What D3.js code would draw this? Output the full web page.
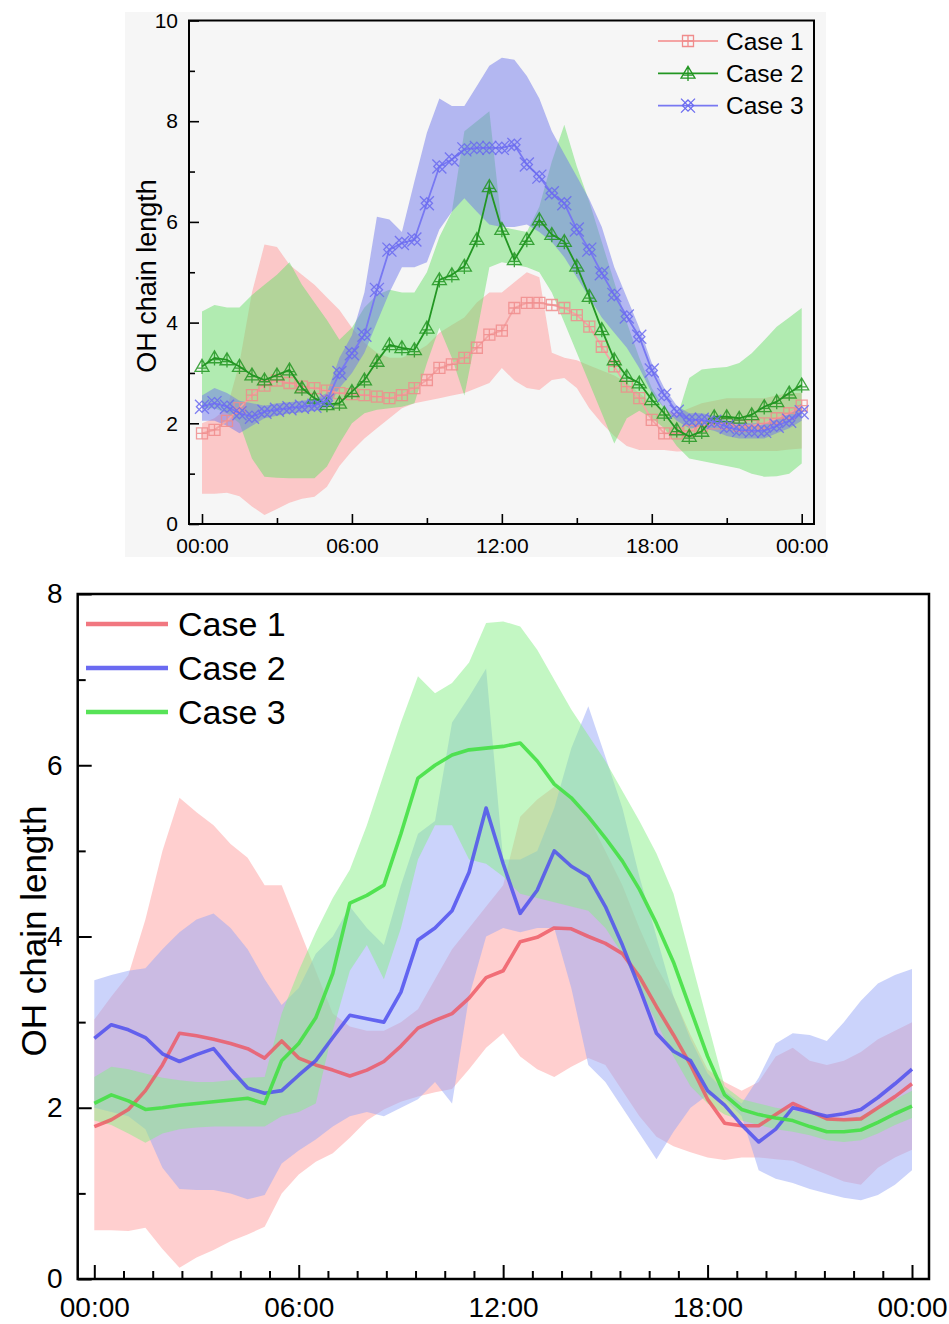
<!DOCTYPE html>
<html>
<head>
<meta charset="utf-8">
<script src="https://cdn.jsdelivr.net/npm/d3@7"></script>
<style>
  body { margin: 0; background: #fff; }
  svg { display: block; }
  text { font-family: Arial, "Liberation Sans", sans-serif; fill: #000; }
</style>
</head>
<body>
<div id="chart"></div>
<script>
var width = 949
var height = 1324

// half-hourly time of day (hours), shared by both panels
var hours = d3.range(0, 24.25, 0.5)
var caseNames = ["Case 1", "Case 2", "Case 3"]
var majorHours = [0, 6, 12, 18, 24]
var hourLabels = ["00:00", "06:00", "12:00", "18:00", "00:00"]

// ---- top panel (lines with markers) ----
var topCase1 = [1.8,1.87,2.05,2.3,2.56,2.75,2.85,2.8,2.73,2.7,2.65,2.6,2.58,2.56,2.53,2.5,2.56,2.7,2.86,3.1,3.17,3.3,3.5,3.76,3.84,4.29,4.39,4.39,4.35,4.29,4.15,3.92,3.52,3.13,2.73,2.5,2.07,1.8,1.8,1.85,1.95,2.0,2.0,1.95,1.95,2.0,2.1,2.2,2.35]
var topCase2 = [3.13,3.3,3.26,3.13,2.96,2.86,2.96,3.06,2.7,2.5,2.37,2.4,2.63,2.86,3.23,3.56,3.5,3.46,3.89,4.85,4.95,5.12,5.65,6.7,5.85,5.25,5.65,6.04,5.75,5.61,5.12,4.52,3.86,3.26,2.93,2.8,2.47,2.2,1.87,1.74,1.84,2.13,2.13,2.1,2.17,2.33,2.43,2.6,2.76]
var topCase3 = [2.33,2.4,2.33,2.2,2.13,2.23,2.27,2.3,2.33,2.35,2.45,3.0,3.39,3.76,4.65,5.45,5.58,5.65,6.37,7.1,7.24,7.44,7.47,7.47,7.47,7.53,7.14,6.9,6.57,6.37,5.85,5.45,4.98,4.55,4.12,3.72,3.05,2.56,2.23,2.07,2.07,2.03,1.93,1.87,1.85,1.85,1.95,2.05,2.22]

var topCase1Hi = [2.0,2.1,2.3,3.2,4.6,5.55,5.5,5.15,4.95,4.75,4.5,4.25,3.9,3.6,3.4,3.3,3.3,3.4,3.55,3.8,3.95,4.1,4.4,4.6,4.6,4.8,5.0,4.9,3.4,3.3,3.25,3.15,3.05,2.95,2.8,2.6,2.4,2.25,2.2,2.3,2.4,2.45,2.5,2.5,2.5,2.5,2.55,2.6,2.6]
var topCase1Lo = [0.6,0.6,0.62,0.55,0.35,0.18,0.3,0.42,0.5,0.54,0.74,1.15,1.45,1.7,1.9,2.1,2.3,2.4,2.45,2.5,2.55,2.6,2.7,2.8,3.1,2.85,2.7,2.66,2.86,2.9,2.7,2.3,2.0,1.75,1.55,1.47,1.47,1.47,1.44,1.45,1.45,1.45,1.45,1.45,1.45,1.45,1.45,1.48,1.5]
var topCase2Hi = [4.22,4.35,4.3,4.3,4.55,4.75,4.95,5.2,4.75,4.4,4.05,3.66,3.9,4.3,4.55,4.65,4.6,4.6,5.0,5.7,6.2,7.8,8.0,8.2,5.9,5.85,5.8,6.3,7.2,7.93,7.1,6.4,5.6,4.8,4.0,3.3,2.7,2.3,2.1,2.9,3.07,3.1,3.12,3.2,3.39,3.65,3.92,4.1,4.29]
var topCase2Lo = [2.3,2.3,2.2,2.0,1.3,0.94,0.92,0.91,0.91,0.91,1.14,1.6,2.0,2.2,2.27,2.3,2.33,2.4,3.2,3.9,3.3,2.55,3.8,5.1,5.2,5.15,5.1,5.0,4.6,4.0,3.4,2.8,2.2,1.6,2.1,2.25,2.1,1.9,1.55,1.3,1.25,1.2,1.15,1.1,1.0,0.94,0.95,1.0,1.2]
var topCase3Hi = [2.55,2.7,2.6,2.45,2.4,2.35,2.4,2.42,2.45,2.48,2.6,3.3,3.75,4.6,6.1,6.05,5.8,6.8,7.77,8.45,8.3,8.3,8.7,9.1,9.26,9.22,8.9,8.45,7.8,7.35,6.9,6.45,5.9,5.1,4.5,3.9,3.2,2.7,2.35,2.2,2.2,2.15,2.05,2.0,2.0,2.0,2.1,2.2,2.4]
var topCase3Lo = [2.05,2.05,1.95,1.8,1.95,2.1,2.15,2.2,2.22,2.25,2.3,2.7,3.0,3.4,4.0,4.6,5.1,5.1,5.2,5.85,6.2,6.47,6.2,5.95,5.9,5.9,5.95,5.8,5.6,5.3,4.9,4.5,4.1,3.8,3.5,3.1,2.6,2.3,2.05,1.9,1.9,1.85,1.75,1.7,1.7,1.7,1.8,1.9,2.05]

// ---- bottom panel (smooth lines) ----
var botCase1 = [1.78,1.86,1.98,2.2,2.5,2.87,2.84,2.8,2.75,2.69,2.58,2.78,2.58,2.5,2.44,2.37,2.44,2.54,2.72,2.93,3.02,3.1,3.28,3.52,3.6,3.94,3.99,4.1,4.09,4.0,3.92,3.8,3.53,3.18,2.85,2.5,2.1,1.82,1.79,1.79,1.92,2.05,1.96,1.87,1.86,1.87,2.0,2.13,2.28]
var botCase2 = [2.81,2.97,2.91,2.82,2.63,2.54,2.62,2.69,2.45,2.23,2.17,2.2,2.38,2.55,2.82,3.08,3.04,3.0,3.35,3.96,4.1,4.3,4.75,5.5,4.85,4.27,4.54,5.0,4.82,4.7,4.35,3.9,3.4,2.87,2.66,2.55,2.2,2.03,1.8,1.6,1.75,2.0,1.95,1.9,1.93,1.98,2.12,2.28,2.45]
var botCase3 = [2.05,2.15,2.08,1.98,2.0,2.03,2.05,2.07,2.09,2.11,2.05,2.55,2.75,3.05,3.57,4.39,4.48,4.6,5.2,5.85,6.0,6.12,6.18,6.2,6.22,6.26,6.05,5.78,5.62,5.4,5.15,4.88,4.55,4.15,3.7,3.15,2.6,2.15,1.98,1.92,1.88,1.85,1.78,1.72,1.72,1.74,1.83,1.93,2.02]

var botCase1Hi = [3.03,3.3,3.55,4.2,5.0,5.62,5.45,5.3,5.08,4.92,4.6,4.6,4.1,3.6,3.1,2.95,2.9,2.9,3.0,3.15,3.5,3.85,4.1,4.35,4.6,5.4,5.6,5.75,5.6,5.4,5.0,4.6,4.1,3.65,3.3,2.85,2.45,2.3,2.2,2.3,2.6,2.7,2.55,2.5,2.55,2.65,2.8,2.9,3.0]
var botCase1Lo = [0.57,0.57,0.56,0.6,0.35,0.13,0.25,0.34,0.44,0.52,0.61,1.0,1.22,1.37,1.47,1.65,1.85,1.98,2.07,2.13,2.18,2.22,2.45,2.7,2.87,2.6,2.45,2.36,2.48,2.58,2.5,2.2,1.9,1.66,1.55,1.48,1.42,1.39,1.42,1.42,1.4,1.38,1.3,1.22,1.14,1.1,1.3,1.42,1.51]
var botCase2Hi = [3.49,3.55,3.6,3.63,3.85,4.05,4.2,4.27,4.1,3.85,3.5,3.2,3.4,3.8,4.0,4.35,4.1,3.9,4.6,5.2,5.35,6.5,6.8,7.13,4.9,4.9,5.0,5.5,6.2,6.69,6.1,5.5,4.7,4.0,3.3,2.8,2.4,2.2,2.05,2.35,2.75,2.87,2.85,2.78,3.0,3.25,3.45,3.55,3.62]
var botCase2Lo = [2.0,1.95,1.9,1.75,1.3,1.05,1.04,1.04,1.0,0.93,0.98,1.35,1.5,1.63,1.78,1.9,1.95,1.9,2.0,2.1,2.3,2.05,3.3,4.0,4.1,4.05,4.1,4.1,3.4,2.5,2.3,2.0,1.7,1.4,1.72,2.0,2.15,2.1,1.9,1.27,1.17,1.12,1.05,1.0,0.95,0.92,0.98,1.1,1.27]
var botCase3Hi = [2.36,2.48,2.45,2.4,2.35,2.32,2.3,2.3,2.32,2.35,2.36,3.1,3.6,4.05,4.45,4.78,5.3,5.9,6.5,7.04,6.84,6.96,7.2,7.66,7.68,7.62,7.35,7.0,6.65,6.35,6.05,5.7,5.35,4.97,4.5,3.75,3.0,2.25,2.1,2.05,2.0,1.97,1.93,1.88,1.87,1.9,2.0,2.1,2.2]
var botCase3Lo = [1.85,1.8,1.7,1.59,1.7,1.75,1.77,1.78,1.78,1.78,1.78,1.9,1.95,2.05,2.9,3.6,3.9,3.5,4.1,4.9,5.3,5.3,4.9,4.85,4.7,4.5,4.45,4.4,4.35,4.3,4.1,3.8,3.4,3.0,2.6,2.25,2.05,1.92,1.85,1.8,1.75,1.72,1.68,1.62,1.6,1.62,1.7,1.8,1.88]

var svg = d3.select("#chart")
  .append("svg")
    .attr("width", width)
    .attr("height", height)

// marker shapes used in the top panel
function markerPath(kind, s) {
  if (kind == "square")
    return `M${-s},${-s}H${s}V${s}H${-s}Z M0,${-s}V${s} M${-s},0H${s}`
  if (kind == "triangle")
    return `M0,${-s}L${s},${s*0.7}L${-s},${s*0.7}Z M0,${-s}V${s*1.1} M${-s*0.65},${s*0.25}H${s*0.65}`
  // crossed diamond
  return `M${-s},${-s}L${s},${s} M${-s},${s}L${s},${-s} M0,${-s*0.8}L${s*0.8},0L0,${s*0.8}L${-s*0.8},0Z`
}

function drawAxes(g, x, y, o) {
  // frame
  g.append("rect")
    .attr("x", o.left).attr("y", o.top)
    .attr("width", o.right - o.left).attr("height", o.bottom - o.top)
    .attr("fill", "none").attr("stroke", "#000").attr("stroke-width", o.frame)

  var xa = g.append("g").attr("transform", `translate(0,${o.bottom})`)
    .call(d3.axisBottom(x).tickValues(majorHours).tickSize(-o.major)
      .tickPadding(o.xPad).tickFormat((d, i) => hourLabels[i]))
  var xm = g.append("g").attr("transform", `translate(0,${o.bottom})`)
    .call(d3.axisBottom(x).tickValues(o.xMinor).tickSize(-o.minor).tickFormat(""))
  var ya = g.append("g").attr("transform", `translate(${o.left},0)`)
    .call(d3.axisLeft(y).tickValues(o.yMajor).tickSize(-o.major).tickPadding(o.yPad))
  var ym = g.append("g").attr("transform", `translate(${o.left},0)`)
    .call(d3.axisLeft(y).tickValues(o.yMinor).tickSize(-o.minor).tickFormat(""))

  ;[xa, xm, ya, ym].forEach(a => {
    a.select(".domain").remove()
    a.selectAll("line").attr("stroke", "#000").attr("stroke-width", o.tickW)
    a.selectAll("text").attr("font-size", o.tickFont)
      .attr("font-family", "Arial, 'Liberation Sans', sans-serif").attr("fill", "#000")
  })
}

// ================= TOP PANEL =================
var xTop = d3.scaleLinear().domain([0, 24]).range([202, 801.7])
var yTop = d3.scaleLinear().domain([0, 10]).range([524, 20.5])

var gTop = svg.append("g")
gTop.append("rect").attr("x", 125).attr("y", 12).attr("width", 701).attr("height", 545).attr("fill", "#f6f6f6")

var topSeries = [
  { lo: topCase1Lo, hi: topCase1Hi, mean: topCase1, fill: "#ff9a9a", line: "#f4a4a4", mark: "#f08c8c", kind: "square", size: 5.5 },
  { lo: topCase2Lo, hi: topCase2Hi, mean: topCase2, fill: "#6ce06c", line: "#229622", mark: "#229622", kind: "triangle", size: 7 },
  { lo: topCase3Lo, hi: topCase3Hi, mean: topCase3, fill: "#7078ec", line: "#7878f2", mark: "#6a6af0", kind: "xx", size: 7 }
]

var topArea = d3.area()
  .x((d, i) => xTop(hours[i]))
  .y0(d => yTop(d[0]))
  .y1(d => yTop(d[1]))

topSeries.forEach(s => {
  gTop.append("path")
    .datum(d3.zip(s.lo, s.hi))
    .attr("d", topArea)
    .attr("fill", s.fill)
    .attr("fill-opacity", 0.5)
})

var topLine = d3.line().x((d, i) => xTop(hours[i])).y(d => yTop(d))

topSeries.forEach(s => {
  gTop.append("path")
    .datum(s.mean)
    .attr("d", topLine)
    .attr("fill", "none")
    .attr("stroke", s.line)
    .attr("stroke-width", 1.8)
  gTop.append("g").selectAll("path").data(s.mean)
    .enter().append("path")
      .attr("transform", (d, i) => `translate(${xTop(hours[i])},${yTop(d)})`)
      .attr("d", markerPath(s.kind, s.size))
      .attr("fill", "none")
      .attr("stroke", s.mark)
      .attr("stroke-width", 1.3)
      .attr("stroke-opacity", 0.85)
})

drawAxes(gTop, xTop, yTop, {
  left: 189, right: 814, top: 20.5, bottom: 524, frame: 2,
  major: 10, minor: 6, tickW: 1.6, tickFont: 21, xPad: 14, yPad: 11,
  xMinor: [3, 9, 15, 21], yMajor: [0, 2, 4, 6, 8, 10], yMinor: [1, 3, 5, 7, 9]
})

gTop.append("text")
  .attr("transform", "translate(156,276) rotate(-90)")
  .attr("text-anchor", "middle")
  .attr("font-size", 27)
  .text("OH chain length")

// legend
var legTop = gTop.append("g")
topSeries.forEach((s, i) => {
  var ly = 41 + i * 32.3
  legTop.append("line").attr("x1", 658).attr("x2", 718).attr("y1", ly).attr("y2", ly)
    .attr("stroke", s.line).attr("stroke-width", 1.8)
  legTop.append("path").attr("transform", `translate(688,${ly})`)
    .attr("d", markerPath(s.kind, s.size)).attr("fill", "none")
    .attr("stroke", s.mark).attr("stroke-width", 1.3)
  legTop.append("text").attr("x", 726).attr("y", ly + 8.5)
    .attr("font-size", 24.5).text(caseNames[i])
})

// ================= BOTTOM PANEL =================
var xBot = d3.scaleLinear().domain([0, 24]).range([94.3, 912])
var yBot = d3.scaleLinear().domain([0, 8]).range([1279, 594])

var gBot = svg.append("g")

var botSeries = [
  { lo: botCase1Lo, hi: botCase1Hi, mean: botCase1, fill: "#ffa0a0", line: "#ee5560", op: 0.8 },
  { lo: botCase2Lo, hi: botCase2Hi, mean: botCase2, fill: "#98a8f8", line: "#5050ee", op: 0.85 },
  { lo: botCase3Lo, hi: botCase3Hi, mean: botCase3, fill: "#88f088", line: "#45e045", op: 0.9 }
]

var botArea = d3.area()
  .x((d, i) => xBot(hours[i]))
  .y0(d => yBot(d[0]))
  .y1(d => yBot(d[1]))

botSeries.forEach(s => {
  gBot.append("path")
    .datum(d3.zip(s.lo, s.hi))
    .attr("d", botArea)
    .attr("fill", s.fill)
    .attr("fill-opacity", 0.5)
})

var botLine = d3.line().x((d, i) => xBot(hours[i])).y(d => yBot(d))

botSeries.forEach(s => {
  gBot.append("path")
    .datum(s.mean)
    .attr("d", botLine)
    .attr("fill", "none")
    .attr("stroke", s.line)
    .attr("stroke-opacity", s.op)
    .attr("stroke-width", 3.6)
    .attr("stroke-linejoin", "round")
})

var botMinor = d3.range(1, 28).filter(k => k % 7 != 0).map(k => k * 6 / 7)

drawAxes(gBot, xBot, yBot, {
  left: 77.7, right: 929, top: 594, bottom: 1279, frame: 2.5,
  major: 14, minor: 8, tickW: 2, tickFont: 28, xPad: 18, yPad: 15,
  xMinor: botMinor, yMajor: [0, 2, 4, 6, 8], yMinor: [1, 3, 5, 7]
})

gBot.append("text")
  .attr("transform", "translate(46,931) rotate(-90)")
  .attr("text-anchor", "middle")
  .attr("font-size", 35)
  .text("OH chain length")

var legBot = gBot.append("g")
botSeries.forEach((s, i) => {
  var ly = 624 + i * 44
  legBot.append("line").attr("x1", 86).attr("x2", 168).attr("y1", ly).attr("y2", ly)
    .attr("stroke", s.line).attr("stroke-opacity", s.op).attr("stroke-width", 4.5)
  legBot.append("text").attr("x", 178).attr("y", ly + 12)
    .attr("font-size", 34).text(caseNames[i])
})
</script>
</body>
</html>
